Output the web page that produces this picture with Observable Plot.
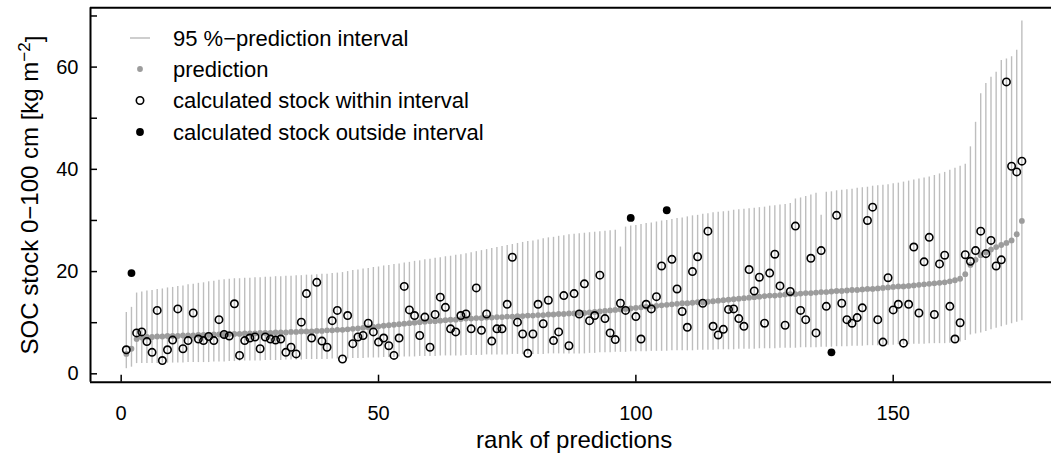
<!DOCTYPE html>
<html><head><meta charset="utf-8">
<script src="https://cdn.jsdelivr.net/npm/d3@7"></script>
<script src="https://cdn.jsdelivr.net/npm/@observablehq/plot@0.6"></script>
<style>
html,body{margin:0;padding:0;background:#fff;overflow:hidden;}
#wrap{position:relative;width:1051px;height:459px;font-family:"Liberation Sans",Arial,sans-serif;}
#legend{position:absolute;left:0;top:0;pointer-events:none;}
</style></head><body><div id="wrap"></div>
<script>
// predicted SOC stock (sorted), kg m-2
const pred = [3.9,4.9,6.8,7.1,7.2,7.2,7.3,7.3,7.4,7.4,7.4,7.5,7.5,7.5,7.6,7.6,7.6,7.7,7.7,7.7,
7.8,7.8,7.8,7.9,7.9,7.9,8.0,8.0,8.0,8.1,8.1,8.1,8.2,8.2,8.3,8.3,8.3,8.4,8.4,8.5,
8.5,8.6,8.6,8.7,8.8,8.9,9.0,9.1,9.2,9.3,9.4,9.5,9.6,9.7,9.8,9.9,10.0,10.1,10.2,10.3,
10.3,10.4,10.5,10.6,10.6,10.7,10.8,10.8,10.9,10.9,11.0,11.0,11.1,11.1,11.2,11.2,11.3,11.3,11.4,11.4,
11.5,11.5,11.6,11.6,11.7,11.7,11.8,11.8,11.9,11.9,12.0,12.1,12.2,12.3,12.4,12.5,12.6,12.7,12.8,12.9,
13.0,13.1,13.2,13.3,13.4,13.5,13.6,13.7,13.8,13.8,13.9,14.0,14.0,14.1,14.2,14.3,14.4,14.5,14.6,14.7,
14.8,14.9,15.0,15.1,15.2,15.3,15.3,15.4,15.5,15.6,15.6,15.7,15.8,15.8,15.9,16.0,16.0,16.1,16.2,16.2,
16.3,16.4,16.4,16.5,16.6,16.6,16.7,16.8,16.9,17.0,17.1,17.1,17.2,17.3,17.4,17.5,17.6,17.7,17.8,17.9,
18.1,18.3,18.6,19.5,21.3,22.3,23.2,23.8,24.3,24.8,25.2,25.6,26.1,27.3,29.9];
// lower bound of 95 % prediction interval
const lower = [1.0,1.3,2.0,2.0,2.0,2.0,2.0,2.1,2.1,2.1,2.1,2.1,2.2,2.2,2.2,2.2,2.2,2.3,2.3,2.3,
2.4,2.4,2.4,2.5,2.5,2.5,2.5,2.6,2.6,2.6,2.6,2.7,2.7,2.7,2.7,2.8,2.8,2.8,2.8,2.8,
2.9,2.9,2.9,2.9,3.0,3.0,3.0,3.1,3.1,3.1,3.2,3.2,3.2,3.3,3.3,3.3,3.3,3.4,3.4,3.4,
3.4,3.5,3.5,3.5,3.5,3.5,3.6,3.6,3.6,3.6,3.7,3.7,3.7,3.7,3.7,3.8,3.8,3.8,3.8,3.8,
3.8,3.8,3.9,3.9,3.9,3.9,3.9,3.9,3.9,3.9,4.0,4.0,4.1,4.1,4.1,4.2,4.2,4.2,4.3,4.3,
4.3,4.3,4.4,4.4,4.4,4.4,4.5,4.5,4.5,4.5,4.5,4.6,4.6,4.6,4.6,4.7,4.7,4.7,4.7,4.8,
4.8,4.8,4.8,4.9,4.9,4.9,4.9,5.0,5.0,5.0,5.0,5.1,5.1,5.1,5.1,5.2,5.2,5.2,5.3,5.3,
5.3,5.4,5.4,5.4,5.5,5.5,5.5,5.6,5.6,5.6,5.7,5.7,5.7,5.8,5.8,5.8,5.9,5.9,5.9,5.9,
6.0,6.1,6.2,6.5,7.6,7.8,8.0,8.3,8.6,8.9,9.2,9.5,9.8,10.1,10.4];
// upper bound of 95 % prediction interval
const upper = [12.0,13.0,15.8,16.0,16.2,16.3,16.5,16.6,16.8,16.9,17.1,17.2,17.4,17.5,17.7,17.8,18.0,18.1,18.3,18.4,
18.5,18.6,18.6,18.7,18.7,18.8,18.8,18.9,18.9,19.0,19.0,19.1,19.1,19.2,19.2,19.3,19.3,19.4,19.5,19.5,
19.6,19.7,19.8,20.0,20.2,20.3,20.5,20.6,20.8,20.9,21.1,21.2,21.4,21.5,21.7,21.8,22.0,22.1,22.3,22.4,
22.6,22.7,22.9,23.0,23.2,23.3,23.5,23.7,23.9,24.1,24.3,24.5,24.7,24.9,25.1,25.3,25.5,25.7,25.9,26.0,
26.2,26.4,26.6,26.7,26.9,27.0,27.2,27.3,27.4,27.5,27.6,27.7,27.8,27.9,28.0,28.1,24.8,28.7,28.9,29.0,
29.2,29.4,29.5,29.7,29.9,30.0,30.2,30.4,30.5,30.7,30.9,31.0,31.2,31.3,31.5,31.6,31.7,31.8,32.0,32.1,
32.2,32.3,32.4,32.5,32.6,32.8,32.9,33.0,33.1,33.3,34.2,34.4,34.7,35.0,35.3,31.0,35.5,35.6,35.8,35.9,
36.0,36.1,36.3,36.4,36.5,36.7,36.8,36.9,37.0,37.2,37.3,37.5,37.7,37.9,38.1,38.3,38.5,38.8,39.1,39.4,
39.8,40.2,40.6,41.0,44.4,49.2,54.8,56.8,58.0,59.0,61.3,61.6,62.0,63.3,69.0];
// calculated (observed) SOC stock
const observed = [4.7,19.7,8.0,8.2,6.3,4.2,12.4,2.6,4.7,6.6,12.7,4.9,6.5,11.9,6.8,6.5,7.3,6.5,10.6,7.7,
7.4,13.7,3.6,6.5,7.0,7.2,4.9,7.2,6.8,6.6,6.8,4.2,5.2,3.9,10.1,15.7,7.0,17.9,6.4,5.2,
10.4,12.4,2.9,11.4,5.9,7.2,7.5,9.9,8.2,6.2,7.0,5.5,3.6,7.0,17.1,12.5,11.4,7.5,11.1,5.2,
11.6,15.0,13.0,8.8,8.2,11.4,11.7,8.8,16.8,8.5,11.7,6.4,8.8,8.8,13.6,22.8,10.1,7.8,4.0,7.8,
13.6,9.8,14.4,6.5,8.2,15.3,5.5,15.7,11.7,17.6,10.4,11.4,19.3,10.8,8.0,6.7,13.8,12.4,30.5,11.2,
6.8,13.6,12.7,15.1,21.1,32.0,22.4,16.6,12.2,9.1,20.0,22.9,13.8,27.9,9.3,7.6,8.7,12.6,12.7,10.8,
9.3,20.4,16.2,18.9,9.9,19.7,23.4,17.2,9.5,16.1,28.9,12.4,10.6,22.6,8.0,24.1,13.2,4.2,31.0,13.8,
10.6,9.9,11.0,12.9,30.0,32.6,10.6,6.2,18.8,12.5,13.6,6.0,13.6,24.8,11.9,21.9,26.7,11.6,21.5,23.2,
13.2,6.8,10.0,23.3,22.0,24.1,27.9,23.5,26.1,21.1,22.3,57.1,40.6,39.5,41.6];

const xTicks = [0,50,100,150];
const yTickLabels = [0,20,40,60];
const yTickMarks = [0,10,20,30,40,50,60,70];
const legendLabels = ["95 %\u2212prediction interval","prediction","calculated stock within interval","calculated stock outside interval"];
const xTitle = "rank of predictions";
const yTitleMain = "SOC stock 0\u2212100 cm [kg m";
const yTitleSup = "\u22122";
const yTitleEnd = "]";

const rows = pred.map((p,i)=>({rank:i+1,pred:p,lo:lower[i],hi:upper[i],obs:observed[i]}));
rows.forEach(d=>{d.out = d.obs < d.lo || d.obs > d.hi;});

const xDom=[-5.96,181.96], yDom=[-1.64,71.6];
const FS=20, FL=22, FT=24;
const tickLenX = 7/5.147, tickLenY = 7/5.11;
const font='"Liberation Sans", Arial, sans-serif';

const chart = Plot.plot({
  width:1051, height:459,
  marginLeft:90, marginRight:-6.2, marginTop:7.3, marginBottom:77.3,
  style:{fontFamily:font, fontSize:FS+"px", color:"#000", background:"#fff"},
  x:{domain:xDom},
  y:{domain:yDom},
  marks:[
    Plot.ruleX(rows,{x:"rank",y1:"lo",y2:"hi",stroke:"#bebebe",strokeWidth:1.4}),
    Plot.dot(rows,{x:"rank",y:"pred",r:2.9,fill:"#9c9c9c",stroke:null}),
    Plot.dot(rows.filter(d=>!d.out),{x:"rank",y:"obs",r:3.7,stroke:"#000",fill:"none",strokeWidth:1.6}),
    Plot.dot(rows.filter(d=>d.out),{x:"rank",y:"obs",r:3.9,fill:"#000",stroke:null}),
    Plot.ruleX(xTicks,{y1:yDom[0],y2:yDom[0]+tickLenY,stroke:"#000",strokeWidth:1.5}),
    Plot.ruleY(yTickMarks,{x1:xDom[0],x2:xDom[0]+tickLenX,stroke:"#000",strokeWidth:1.5}),
    Plot.ruleY([yDom[0],yDom[1]],{stroke:"#000",strokeWidth:2}),
    Plot.ruleX([xDom[0]],{stroke:"#000",strokeWidth:2}),
    Plot.axisX({ticks:xTicks,tickSize:0,tickPadding:24,label:null,fontSize:FS}),
    Plot.axisY({ticks:yTickLabels,tickSize:0,tickPadding:12,label:null,fontSize:FS}),
    Plot.text([xTitle],{frameAnchor:"bottom",lineAnchor:"middle",textAnchor:"middle",dy:58,fontSize:FT}),
    Plot.text([yTitleMain+yTitleSup+yTitleEnd],{frameAnchor:"left",rotate:-90,textAnchor:"middle",lineAnchor:"middle",dx:-60,fontSize:FT})
  ]
});
// raise the exponent of the y title as a superscript (kept as real text)
chart.querySelectorAll("text").forEach(t=>{
  if(t.textContent===yTitleMain+yTitleSup+yTitleEnd){
    while(t.firstChild) t.removeChild(t.firstChild);
    const ns="http://www.w3.org/2000/svg";
    const a=document.createElementNS(ns,"tspan"); a.textContent=yTitleMain; t.appendChild(a);
    const b=document.createElementNS(ns,"tspan"); b.textContent=yTitleSup; b.setAttribute("dy","-0.5em"); b.setAttribute("font-size","17"); t.appendChild(b);
    const c=document.createElementNS(ns,"tspan"); c.textContent=yTitleEnd; c.setAttribute("dy","0.5em"); t.appendChild(c);
  }
});
document.getElementById("wrap").appendChild(chart);

// legend overlay inside the plot panel
const ns="http://www.w3.org/2000/svg";
const lg=document.createElementNS(ns,"svg");
lg.setAttribute("id","legend");lg.setAttribute("width","1051");lg.setAttribute("height","459");
const rowsY=[38,69,100.5,132];
function el(tag,attrs){const e=document.createElementNS(ns,tag);for(const k in attrs)e.setAttribute(k,attrs[k]);lg.appendChild(e);return e;}
el("line",{x1:130,x2:150,y1:rowsY[0],y2:rowsY[0],stroke:"#bebebe","stroke-width":1.5});
el("circle",{cx:140,cy:rowsY[1],r:2.9,fill:"#9c9c9c"});
el("circle",{cx:140,cy:rowsY[2],r:3.7,fill:"none",stroke:"#000","stroke-width":1.6});
el("circle",{cx:140,cy:rowsY[3],r:3.9,fill:"#000"});
legendLabels.forEach((t,i)=>{const e=el("text",{x:173,y:rowsY[i]+7.5,"font-size":FL,"font-family":font,fill:"#000"});e.textContent=t;});
document.getElementById("wrap").appendChild(lg);
</script></body></html>
